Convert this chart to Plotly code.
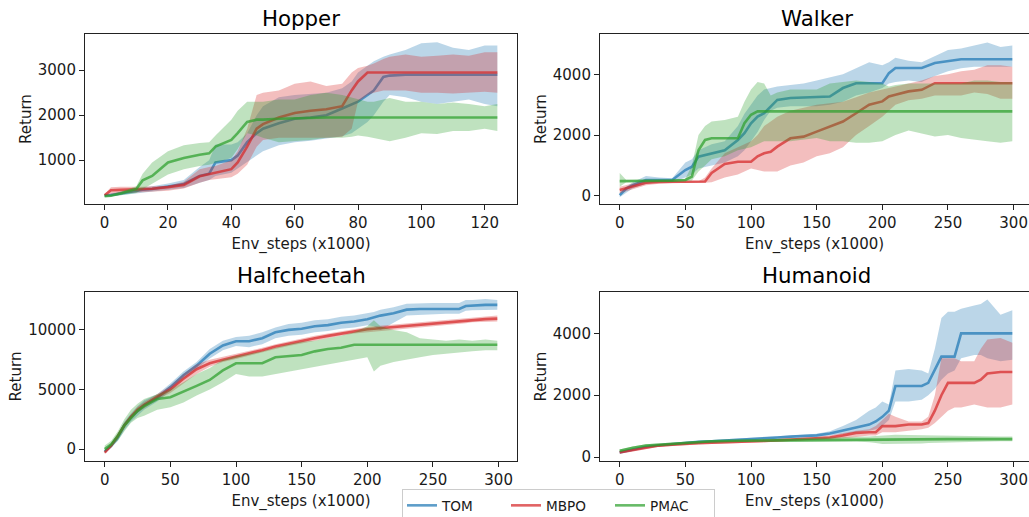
import plotly.graph_objects as go

# ---------------- data ----------------
SERIES = ["TOM", "MBPO", "PMAC"]

# Hopper
H_X = [0, 2, 5, 10, 12, 15, 20, 25, 30, 33, 35, 40, 42, 45, 48, 50, 55, 60, 65, 70, 75, 78, 80, 83, 85, 88, 90, 95, 100, 105, 110, 115, 120, 124]
H_TOM = [220, 225, 260, 320, 340, 360, 410, 470, 650, 700, 950, 1000, 1100, 1400, 1600, 1700, 1820, 1920, 1950, 2000, 2150, 2250, 2300, 2450, 2550, 2850, 2880, 2900, 2900, 2900, 2900, 2900, 2900, 2900]
H_TOM_LO = [180, 190, 220, 270, 290, 300, 340, 380, 500, 560, 650, 720, 800, 950, 1100, 1200, 1330, 1400, 1430, 1480, 1530, 1600, 1700, 1850, 2000, 2300, 2450, 2400, 2300, 2250, 2300, 2350, 2250, 2200]
H_TOM_HI = [250, 260, 300, 370, 390, 420, 480, 560, 850, 1000, 1350, 1350, 1400, 1600, 2000, 2200, 2400, 2450, 2480, 2500, 2600, 2750, 2950, 3100, 3200, 3300, 3350, 3450, 3600, 3620, 3500, 3450, 3550, 3550]
H_MBPO = [220, 330, 340, 350, 355, 365, 400, 450, 640, 690, 710, 800, 950, 1300, 1700, 1800, 1950, 2050, 2100, 2130, 2200, 2550, 2750, 2950, 2950, 2950, 2950, 2950, 2950, 2950, 2950, 2950, 2950, 2950]
H_MBPO_LO = [190, 250, 270, 280, 290, 300, 320, 370, 500, 560, 580, 620, 700, 900, 1300, 1450, 1500, 1500, 1500, 1500, 1520, 1700, 2300, 2450, 2500, 2550, 2550, 2550, 2500, 2500, 2480, 2500, 2520, 2500]
H_MBPO_HI = [250, 400, 410, 400, 410, 420, 430, 520, 800, 850, 870, 1000, 1200, 1700, 2450, 2500, 2550, 2700, 2750, 2650, 2700, 2950, 3050, 3100, 3150, 3250, 3300, 3350, 3300, 3320, 3350, 3320, 3400, 3400]
H_PMAC = [200, 210, 260, 360, 550, 650, 950, 1050, 1120, 1150, 1300, 1450, 1600, 1850, 1900, 1900, 1920, 1930, 1950, 1950, 1950, 1950, 1950, 1950, 1950, 1950, 1950, 1950, 1950, 1950, 1950, 1950, 1950, 1950]
H_PMAC_LO = [180, 190, 220, 270, 350, 480, 680, 800, 870, 900, 950, 1050, 1250, 1600, 1550, 1500, 1400, 1420, 1450, 1500, 1500, 1520, 1550, 1520, 1500, 1450, 1420, 1500, 1600, 1580, 1650, 1650, 1700, 1650]
H_PMAC_HI = [230, 240, 300, 420, 700, 950, 1200, 1330, 1380, 1400, 1550, 1900, 2100, 2300, 2300, 2300, 2350, 2350, 2450, 2500, 2450, 2400, 2350, 2300, 2300, 2350, 2380, 2300, 2300, 2250, 2280, 2250, 2200, 2250]

# Walker
W_X = [0, 5, 10, 20, 30, 40, 50, 55, 60, 65, 70, 80, 90, 95, 100, 105, 110, 115, 120, 130, 140, 150, 160, 170, 180, 190, 200, 205, 210, 220, 230, 240, 250, 260, 270, 280, 290, 299]
W_TOM = [20, 240, 350, 520, 520, 520, 850, 960, 1290, 1340, 1400, 1500, 1840, 2060, 2390, 2610, 2720, 2940, 3160, 3220, 3230, 3250, 3270, 3550, 3710, 3710, 3710, 4040, 4210, 4210, 4210, 4375, 4430, 4500, 4500, 4500, 4500, 4500]
W_TOM_LO = [-50, 100, 250, 400, 450, 450, 600, 700, 900, 950, 1000, 1100, 1300, 1500, 1800, 2100, 2500, 2800, 2900, 2950, 2950, 2950, 3000, 3100, 3300, 3400, 3550, 3700, 3750, 3800, 3750, 3950, 4100, 4200, 4250, 4250, 4250, 4250]
W_TOM_HI = [100, 300, 450, 650, 600, 580, 1100, 1200, 1500, 1600, 1700, 1800, 2300, 2700, 3000, 3300, 3500, 3550, 3600, 3650, 3700, 3800, 3900, 4000, 4200, 4400, 4300, 4400, 4550, 4450, 4400, 4600, 4800, 4850, 4950, 5050, 4900, 4950]
W_MBPO = [190, 250, 300, 430, 460, 460, 460, 460, 460, 470, 750, 1050, 1120, 1120, 1120, 1300, 1400, 1450, 1620, 1895, 1950, 2115, 2280, 2445, 2720, 3000, 3110, 3270, 3330, 3440, 3490, 3710, 3710, 3710, 3710, 3710, 3710, 3710]
W_MBPO_LO = [80, 150, 200, 350, 400, 420, 420, 420, 420, 430, 450, 600, 700, 800, 900, 850, 800, 800, 800, 1000, 1100, 1300, 1400, 1600, 2000, 2300, 2600, 2800, 3000, 3150, 3200, 3300, 3300, 3300, 3400, 3350, 3200, 3200]
W_MBPO_HI = [300, 350, 400, 520, 500, 480, 480, 480, 480, 600, 900, 1400, 1600, 1700, 1800, 2000, 2300, 2450, 2600, 2800, 2900, 3000, 3050, 3100, 3250, 3400, 3500, 3550, 3600, 3700, 3800, 3950, 4000, 4100, 4150, 4300, 4300, 4250]
W_PMAC = [485, 485, 485, 485, 490, 500, 520, 630, 1500, 1840, 1895, 1895, 1895, 2390, 2670, 2780, 2780, 2780, 2780, 2780, 2780, 2780, 2780, 2780, 2780, 2780, 2780, 2780, 2780, 2780, 2780, 2780, 2780, 2780, 2780, 2780, 2780, 2780]
W_PMAC_LO = [300, 450, 450, 460, 460, 470, 480, 500, 800, 1000, 1200, 1300, 1500, 1550, 1600, 1700, 1800, 1800, 1800, 1800, 1850, 1900, 1800, 1800, 1750, 1750, 1800, 1900, 2000, 2150, 2050, 1950, 2000, 1900, 1850, 1800, 1750, 1800]
W_PMAC_HI = [750, 520, 520, 520, 530, 540, 560, 1000, 2000, 2300, 2450, 2500, 2600, 3100, 3500, 3750, 3700, 3300, 3400, 3500, 3500, 3500, 3700, 3750, 3800, 3750, 3700, 3600, 3650, 3700, 3700, 3700, 3700, 3700, 3800, 3800, 3750, 3750]

# Halfcheetah
C_X = [0, 5, 10, 15, 20, 25, 30, 40, 50, 60, 70, 80, 90, 100, 110, 120, 130, 140, 150, 160, 170, 180, 190, 200, 205, 210, 220, 230, 240, 250, 260, 270, 275, 280, 290, 299]
C_TOM = [-200, 300, 1000, 2000, 2700, 3200, 3700, 4300, 5200, 6200, 7000, 8000, 8700, 9050, 9050, 9300, 9800, 10000, 10100, 10300, 10400, 10600, 10700, 10900, 11050, 11200, 11400, 11700, 11750, 11750, 11750, 11750, 12000, 12050, 12100, 12100]
C_TOM_LO = [-300, 100, 700, 1600, 2300, 2800, 3300, 4000, 4900, 5900, 6700, 7600, 8300, 8650, 8550, 8800, 9300, 9500, 9600, 9800, 9900, 10100, 10200, 10400, 10300, 10000, 10600, 11200, 11300, 11300, 11350, 11350, 11600, 11650, 11700, 11700]
C_TOM_HI = [-100, 500, 1300, 2300, 3000, 3600, 4100, 4600, 5500, 6500, 7300, 8400, 9100, 9400, 9500, 9800, 10200, 10500, 10600, 10800, 10900, 11100, 11200, 11400, 11500, 11700, 11900, 12200, 12250, 12250, 12250, 12250, 12500, 12500, 12600, 12500]
C_MBPO = [-300, 300, 1100, 2000, 2700, 3300, 3700, 4400, 5000, 5900, 6700, 7200, 7500, 7750, 8000, 8300, 8600, 8850, 9100, 9300, 9500, 9700, 9900, 10050, 10100, 10150, 10250, 10300, 10400, 10550, 10600, 10700, 10750, 10850, 10900, 10950]
C_MBPO_LO = [-400, 150, 900, 1800, 2500, 3050, 3450, 4150, 4700, 5500, 6300, 6900, 7300, 7550, 7800, 8100, 8400, 8650, 8900, 9100, 9300, 9500, 9700, 9850, 9900, 9950, 10050, 10100, 10200, 10350, 10400, 10500, 10550, 10650, 10700, 10700]
C_MBPO_HI = [-200, 450, 1300, 2200, 2900, 3550, 3950, 4650, 5300, 6300, 7100, 7500, 7750, 7950, 8200, 8500, 8800, 9050, 9300, 9500, 9700, 9900, 10100, 10250, 10300, 10350, 10450, 10500, 10600, 10750, 10800, 10900, 10950, 11050, 11100, 11200]
C_PMAC = [0, 400, 1100, 2000, 2600, 3200, 3600, 4200, 4350, 4800, 5300, 5800, 6600, 7200, 7200, 7200, 7700, 7800, 7900, 8200, 8400, 8500, 8750, 8750, 8750, 8750, 8750, 8750, 8750, 8750, 8750, 8750, 8750, 8750, 8750, 8750]
C_PMAC_LO = [-200, 200, 700, 1500, 2200, 2600, 2800, 3300, 3500, 3900, 4500, 5000, 5600, 6300, 6100, 6100, 6300, 6500, 6700, 6900, 7100, 7300, 7500, 7700, 6500, 7000, 7300, 7500, 7700, 7900, 8000, 8100, 8150, 8200, 8300, 8300]
C_PMAC_HI = [300, 700, 1500, 2500, 3300, 3800, 4200, 4600, 5000, 5600, 6300, 6800, 7500, 7800, 8000, 8200, 8500, 8800, 9000, 9100, 9300, 9500, 9800, 10300, 10800, 10300, 10000, 9800, 9300, 9200, 9100, 9200, 9150, 9100, 9200, 9100]

# Humanoid
U_X = [0, 10, 20, 30, 40, 50, 60, 70, 80, 90, 100, 110, 120, 130, 140, 150, 160, 170, 180, 190, 195, 200, 205, 210, 220, 230, 235, 240, 245, 250, 255, 260, 270, 275, 280, 290, 299]
U_TOM = [150, 250, 330, 380, 420, 460, 490, 510, 530, 550, 580, 600, 630, 660, 680, 700, 760, 850, 950, 1050, 1150, 1300, 1500, 2300, 2300, 2300, 2400, 2800, 3250, 3250, 3250, 4000, 4000, 4000, 4000, 4000, 4000]
U_TOM_LO = [120, 220, 300, 350, 390, 420, 450, 470, 490, 510, 540, 560, 590, 620, 640, 650, 700, 750, 800, 850, 900, 1000, 1200, 1800, 1800, 1850, 2000, 2200, 2500, 2700, 2800, 3200, 3300, 3300, 3200, 3100, 3150]
U_TOM_HI = [180, 280, 360, 410, 450, 500, 530, 550, 570, 590, 620, 640, 670, 700, 720, 750, 830, 1000, 1200, 1500, 1600, 1800, 1700, 2800, 2850, 2800, 2700, 3500, 4500, 4700, 4700, 4800, 4900, 4950, 5100, 4600, 4750]
U_MBPO = [150, 230, 300, 370, 400, 430, 450, 460, 470, 490, 500, 520, 540, 560, 580, 600, 630, 700, 780, 800, 800, 1000, 1000, 1000, 1050, 1050, 1100, 1500, 2000, 2400, 2400, 2400, 2400, 2500, 2700, 2750, 2750]
U_MBPO_LO = [120, 200, 270, 330, 360, 390, 410, 420, 430, 450, 460, 480, 500, 520, 540, 550, 570, 600, 650, 700, 700, 800, 800, 800, 850, 900, 950, 1100, 1300, 1500, 1600, 1600, 1700, 1650, 1600, 1600, 1700]
U_MBPO_HI = [180, 260, 330, 400, 430, 470, 490, 500, 510, 530, 540, 560, 580, 600, 620, 650, 700, 780, 850, 900, 1000, 1200, 1400, 1300, 1150, 1150, 1300, 2000, 3200, 3200, 3200, 3100, 3100, 3500, 3800, 3850, 3700]
U_PMAC = [200, 300, 370, 400, 430, 470, 500, 510, 520, 530, 530, 535, 540, 540, 545, 550, 555, 560, 560, 565, 570, 570, 575, 575, 575, 578, 578, 580, 580, 580, 580, 580, 580, 580, 580, 580, 580]
U_PMAC_LO = [160, 260, 330, 360, 390, 430, 460, 470, 480, 490, 490, 495, 500, 500, 500, 500, 505, 500, 500, 480, 450, 420, 420, 420, 430, 440, 450, 460, 470, 480, 490, 490, 500, 500, 500, 510, 510]
U_PMAC_HI = [240, 340, 410, 440, 470, 510, 540, 550, 560, 570, 570, 575, 580, 590, 600, 610, 620, 630, 640, 660, 680, 700, 720, 720, 710, 700, 700, 700, 690, 690, 680, 680, 670, 670, 670, 660, 660]

TITLES = ["Hopper", "Walker", "Halfcheetah", "Humanoid"]
X_LABEL = "Env_steps (x1000)"
Y_LABEL = "Return"

# ---------------- styling ----------------
W, H = 1029, 517
FONT = "DejaVu Sans"
TXT = "#1a1a1a"
FS = 15
RGB = {"TOM": "31,119,180", "MBPO": "214,39,40", "PMAC": "44,160,44"}

panels = [
    dict(x=H_X, data={"TOM": (H_TOM, H_TOM_LO, H_TOM_HI), "MBPO": (H_MBPO, H_MBPO_LO, H_MBPO_HI), "PMAC": (H_PMAC, H_PMAC_LO, H_PMAC_HI)},
         xr=[-6.2, 130.2], yr=[25, 3805], xt=[0, 20, 40, 60, 80, 100, 120], yt=[1000, 2000, 3000],
         dx=[85, 517], dy=[34, 204], right=True),
    dict(x=W_X, data={"TOM": (W_TOM, W_TOM_LO, W_TOM_HI), "MBPO": (W_MBPO, W_MBPO_LO, W_MBPO_HI), "PMAC": (W_PMAC, W_PMAC_LO, W_PMAC_HI)},
         xr=[-15, 311.7], yr=[-270, 5330], xt=[0, 50, 100, 150, 200, 250, 300], yt=[0, 2000, 4000],
         dx=[600, 1029], dy=[34, 204], right=False),
    dict(x=C_X, data={"TOM": (C_TOM, C_TOM_LO, C_TOM_HI), "MBPO": (C_MBPO, C_MBPO_LO, C_MBPO_HI), "PMAC": (C_PMAC, C_PMAC_LO, C_PMAC_HI)},
         xr=[-15, 314], yr=[-1000, 13180], xt=[0, 50, 100, 150, 200, 250, 300], yt=[0, 5000, 10000],
         dx=[85, 517], dy=[292, 461], right=True),
    dict(x=U_X, data={"TOM": (U_TOM, U_TOM_LO, U_TOM_HI), "MBPO": (U_MBPO, U_MBPO_LO, U_MBPO_HI), "PMAC": (U_PMAC, U_PMAC_LO, U_PMAC_HI)},
         xr=[-15, 311.7], yr=[-129, 5340], xt=[0, 50, 100, 150, 200, 250, 300], yt=[0, 2000, 4000],
         dx=[600, 1029], dy=[292, 461], right=False),
]
title_pos = [(301, 18), (816.7, 18), (301, 275), (816.7, 275)]

fig = go.Figure()
layout = dict(
    width=W, height=H, margin=dict(l=0, r=0, t=0, b=0, autoexpand=False),
    paper_bgcolor="white", plot_bgcolor="white",
    font=dict(family=FONT, size=FS, color=TXT),
    showlegend=True,
    legend=dict(orientation="h", x=402 / W, y=1 - 489 / H, xanchor="left", yanchor="top",
                bgcolor="white", bordercolor="#cccccc", borderwidth=1,
                font=dict(family=FONT, size=13.6, color=TXT), entrywidth=59, itemwidth=30),
    annotations=[],
)

for i, p in enumerate(panels):
    n = i + 1
    xa = "x" if n == 1 else f"x{n}"
    ya = "y" if n == 1 else f"y{n}"
    for s in SERIES:
        mean, lo, hi = p["data"][s]
        fig.add_trace(go.Scatter(
            x=list(p["x"]) + list(p["x"])[::-1], y=list(hi) + list(lo)[::-1],
            fill="toself", fillcolor=f"rgba({RGB[s]},0.3)", line=dict(width=0),
            mode="lines", hoverinfo="skip", showlegend=False, xaxis=xa, yaxis=ya))
        fig.add_trace(go.Scatter(
            x=p["x"], y=mean, mode="lines", name=s, legendgroup=s,
            line=dict(color=f"rgba({RGB[s]},0.72)", width=2.6),
            showlegend=(n == 1), xaxis=xa, yaxis=ya))
    xkey = "xaxis" if n == 1 else f"xaxis{n}"
    ykey = "yaxis" if n == 1 else f"yaxis{n}"
    layout[xkey] = dict(
        domain=[p["dx"][0] / W, p["dx"][1] / W], range=p["xr"], anchor=ya,
        tickvals=p["xt"], ticks="outside", ticklen=5, tickwidth=1, tickcolor="#222",
        showline=True, linecolor="#222", linewidth=1.1, mirror=True,
        showgrid=False, zeroline=False, automargin=False,
        tickfont=dict(family=FONT, size=FS, color=TXT),
        title=dict(text=X_LABEL, standoff=7, font=dict(family=FONT, size=FS, color=TXT)))
    layout[ykey] = dict(
        domain=[1 - p["dy"][1] / H, 1 - p["dy"][0] / H], range=p["yr"], anchor=xa,
        tickvals=p["yt"], tickformat="d", ticks="outside", ticklen=5, tickwidth=1, tickcolor="#222",
        showline=True, linecolor="#222", linewidth=1.1, mirror=p["right"],
        showgrid=False, zeroline=False, automargin=False,
        tickfont=dict(family=FONT, size=FS, color=TXT),
        title=dict(text=Y_LABEL, standoff=2, font=dict(family=FONT, size=FS, color=TXT)))
    tx, ty = title_pos[i]
    layout["annotations"].append(dict(
        text=TITLES[i], x=tx / W, y=1 - ty / H, xref="paper", yref="paper",
        xanchor="center", yanchor="middle", showarrow=False,
        font=dict(family=FONT, size=21.3, color="#000")))

fig.update_layout(**layout)
fig.write_html("out.html", config={"displayModeBar": False},
               post_script="document.body.style.margin='0';document.body.style.overflow='hidden';")
